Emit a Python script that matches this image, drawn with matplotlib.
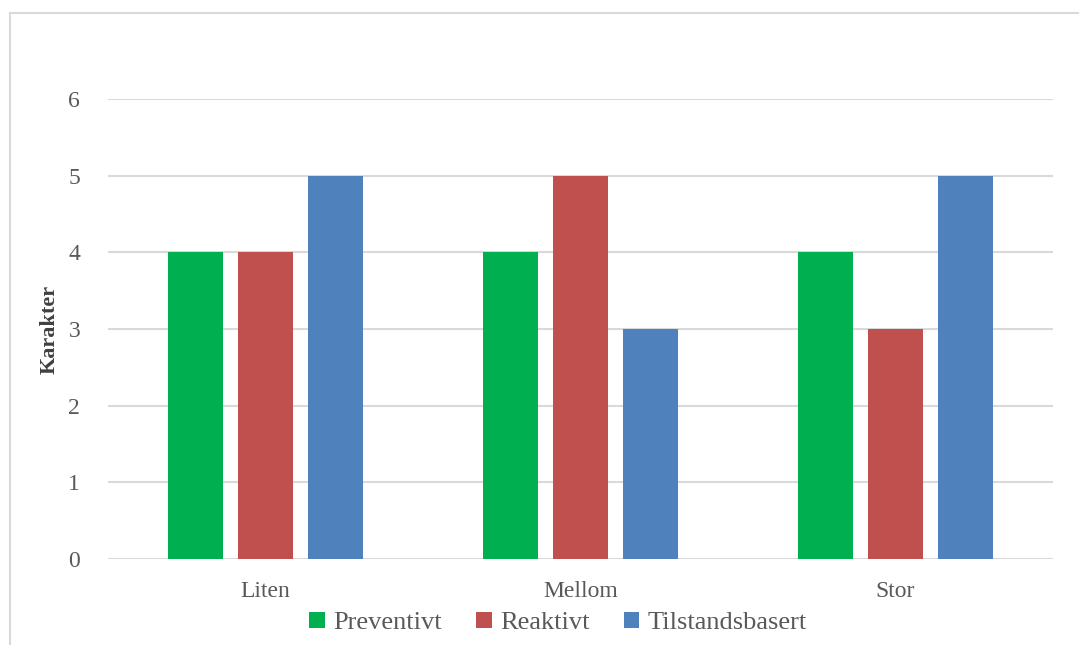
import matplotlib
matplotlib.use("Agg")
import matplotlib.pyplot as plt
import numpy as np

# data
kategorier = ["Liten", "Mellom", "Stor"]
serier = ["Preventivt", "Reaktivt", "Tilstandsbasert"]
preventivt = [4, 4, 4]
reaktivt = [4, 5, 3]
tilstandsbasert = [5, 3, 5]
farger = ["#00b050", "#c0504d", "#4f81bd"]

plt.rcParams['font.family'] = ['Liberation Serif', 'DejaVu Serif']

fig = plt.figure(figsize=(10.79, 6.45), dpi=100)
ax = fig.add_axes([108 / 1079, 1 - 559 / 645, 945 / 1079, 460 / 645])

x = np.arange(len(kategorier))
bredde = 0.1746
steg = 0.222
for i, (navn, verdier) in enumerate(zip(serier, [preventivt, reaktivt, tilstandsbasert])):
    ax.bar(x + (i - 1) * steg, verdier, bredde, color=farger[i], label=navn, zorder=3)

ax.set_xlim(-0.5, 2.5)
ax.set_ylim(0, 6)
ax.set_yticks(range(0, 7))
ax.set_xticks(x)
ax.set_xticklabels(kategorier)
ax.grid(axis='y', color='#d9d9d9', linewidth=1.5, zorder=0)
for s in ax.spines.values():
    s.set_visible(False)
ax.tick_params(length=0, colors='#595959', labelsize=17)
ax.tick_params(axis='y', pad=20)
ax.tick_params(axis='x', pad=16)
ax.set_ylabel("Karakter", fontsize=16, fontweight='bold', color='#404040', labelpad=6)

leg = fig.legend(loc='center', bbox_to_anchor=(558 / 1079, 1 - 623 / 645), ncol=3,
                 frameon=False, fontsize=19, handlelength=0.6, handleheight=0.6,
                 handletextpad=0.3, columnspacing=1.3)
for t in leg.get_texts():
    t.set_color('#595959')

# chart frame
fig.add_artist(plt.Line2D([10 / 1079, 10 / 1079], [0, 1 - 13 / 645], color='#d9d9d9', lw=1.5))
fig.add_artist(plt.Line2D([10 / 1079, 1], [1 - 13 / 645, 1 - 13 / 645], color='#d9d9d9', lw=1.5))

fig.savefig("out.png", dpi=100)
